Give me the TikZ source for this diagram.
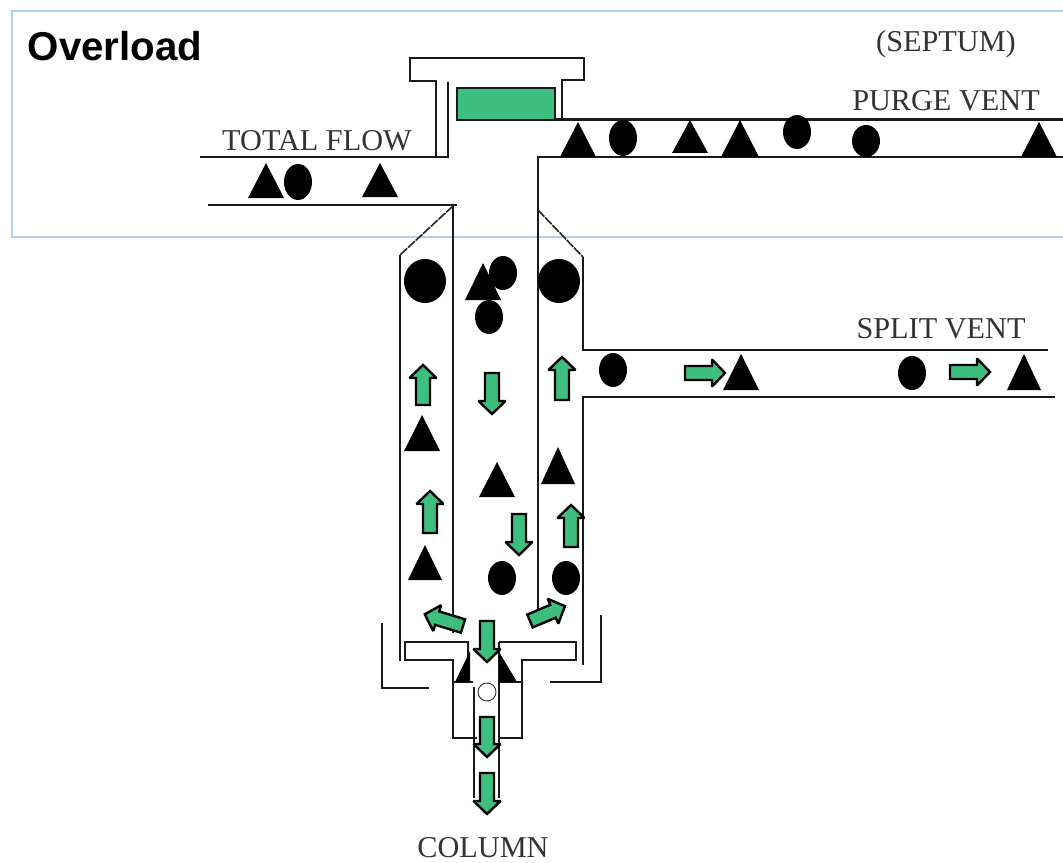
\documentclass[tikz,border=0pt]{standalone}
\usepackage{fontspec}
\setmainfont{Liberation Serif}
\newfontfamily\headfont{Liberation Sans}
\definecolor{flowgreen}{HTML}{3FBF7F}
\definecolor{boxblue}{HTML}{B4CFEE}
\definecolor{labelgray}{HTML}{333333}
% arrow from (x,y) with length and rotation (0 = down, 90 = right, 180 = up on the page)
\newcommand{\flowarrow}[4]{%
  \begin{scope}[shift={(#1,#2)},rotate=#4]
    \draw[flowarrowstyle] (-7,0)--(7,0)--(7,{#3-13})--(13.5,{#3-13})--(0,#3)--(-13.5,{#3-13})--(-7,{#3-13})--cycle;
  \end{scope}}
\newcommand{\tri}[4]{\fill[black] (#1,#3)--({#1+#4},#2)--({#1-#4},#2)--cycle;}
\newcommand{\blob}[4]{\fill[black] (#1,#2) ellipse [x radius=#3,y radius=#4];}
\tikzset{
  wall/.style={draw=black!90,line width=2.1pt,line join=miter},
  thinwall/.style={draw=black!85,line width=1.2pt,dash pattern=on 7pt off 0.8pt},
  flowarrowstyle/.style={draw=black,line width=1.8pt,fill=flowgreen,line join=miter,miter limit=2},
  lab/.style={text=labelgray,font=\fontsize{22.7}{24}\selectfont,inner sep=0pt,anchor=base}
}
\begin{document}
\begin{tikzpicture}[x=0.75pt,y=-0.75pt]
\useasboundingbox (0,0) rectangle (1063,863);
\fill[white] (0,0) rectangle (1063,863);
\draw[boxblue,line width=1.1pt] (1070,11)--(12,11)--(12,237)--(1070,237);
% septum
\draw[wall] (436,156)--(436,81)--(410,81)--(410,58)--(584,58)--(584,80)--(562,80)--(562,119);
\draw[wall] (448,82)--(448,157);
\draw[wall,fill=flowgreen] (457,88) rectangle (555,120);
% total flow
\draw[wall] (200,157)--(449,157);
\draw[wall] (208,205)--(457,205);
% purge vent
\draw[wall] (555,119.5)--(1063,119.5);
\draw[wall] (1063,157)--(538,157)--(538,620);
% inner left wall
\draw[wall] (453,205)--(453,633);
% flares
\draw[thinwall] (453,206)--(400,255);
\draw[thinwall] (538,210)--(583,257);
% outer walls
\draw[wall] (400,255)--(400,661);
\draw[wall] (583,257)--(583,350)--(1048,350);
\draw[wall] (1055,397)--(583,397)--(583,665);
% ferrule
\draw[wall] (382,623)--(382,688)--(429,688);
\draw[wall] (601,615)--(601,682)--(550,682);
\draw[wall] (468,682)--(468,642)--(405,642)--(405,660)--(453,660)--(453,738)--(477,738);
\draw[wall] (499,642)--(576,642)--(576,660)--(522,660)--(522,738)--(499,738);
\draw[wall] (453,682)--(473,682);
\draw[wall] (499,682)--(522,682);
\draw[wall] (474,687)--(474,798);
\draw[wall] (499,642)--(499,798);
\fill[black] (455,682)--(470,682)--(470,651)--cycle;
\fill[black] (499,652)--(517,682)--(499,682)--cycle;
\draw[black!80,line width=0.7pt,fill=white] (487,692) circle [radius=9];
% particles
\tri{266}{198}{163}{18}\blob{298}{182}{14}{18}\tri{380}{197}{163}{18}
\tri{578}{157}{122}{18}\blob{623}{138}{14}{18}\tri{690}{153}{120}{18}\tri{740}{157}{120}{19}
\blob{797}{132}{14}{17}\blob{866}{141}{14}{16}\tri{1039}{157}{122}{18}
\blob{425}{281}{21}{22}\blob{559}{281}{21}{22}
\tri{483}{300}{263}{18}\blob{503}{273}{14}{17}\blob{489}{317}{14}{17}
\blob{613}{370}{14}{17}\tri{741}{390}{354}{18}\blob{912}{373}{14}{17}\tri{1024}{390}{354}{17}
\tri{422}{451}{415}{18}\tri{425}{580}{545}{17}\tri{497}{497}{462}{18}\blob{502}{578}{14}{17}
\tri{558}{484}{447}{17}\blob{566}{578}{14}{17}
% flow arrows
\flowarrow{423}{405}{40}{180}
\flowarrow{430}{533}{42}{180}
\flowarrow{562}{400}{43}{180}
\flowarrow{571}{547}{42}{180}
\flowarrow{492}{373}{41}{0}
\flowarrow{519}{514}{41}{0}
\flowarrow{685}{373}{40}{90}
\flowarrow{950}{372}{40}{90}
\flowarrow{463}{626}{40}{-107}
\flowarrow{530}{621}{38}{113}
\flowarrow{487}{621}{41}{0}
\flowarrow{487}{717}{40}{0}
\flowarrow{487}{773}{41}{0}
% labels
\node[inner sep=0pt,anchor=base west,font=\headfont\bfseries\fontsize{30.2}{32}\selectfont,text=black] (overload) at (27.5,61) {Overload};
\node[lab] (septum) at (946,52) {(SEPTUM)};
\node[lab] (purge) at (946,111) {PURGE VENT};
\node[lab] (total) at (317,151) {TOTAL FLOW};
\node[lab] (split) at (941,338) {SPLIT VENT};
\node[lab] (column) at (483,857) {COLUMN};
\end{tikzpicture}
\end{document}
